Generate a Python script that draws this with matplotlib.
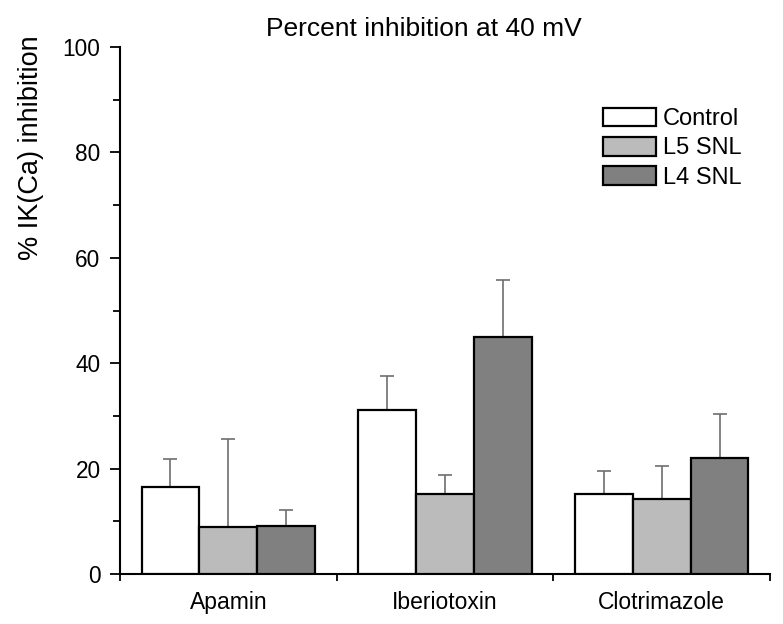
import numpy as np
import matplotlib.pyplot as plt
from matplotlib.ticker import MultipleLocator

plt.rcParams['font.family'] = ['Liberation Sans', 'DejaVu Sans']

drugs = ["Apamin", "Iberiotoxin", "Clotrimazole"]
groups = ["Control", "L5 SNL", "L4 SNL"]
means = {
    "Control": [16.5, 31.1, 15.2],
    "L5 SNL": [8.9, 15.2, 14.2],
    "L4 SNL": [9.1, 45.0, 22.0],
}
errs = {
    "Control": [5.3, 6.5, 4.3],
    "L5 SNL": [16.7, 3.6, 6.3],
    "L4 SNL": [3.0, 10.8, 8.4],
}
colors = {"Control": "white", "L5 SNL": "#bbbbbb", "L4 SNL": "#808080"}

fig = plt.figure(figsize=(7.83, 6.24), dpi=100)
ax = fig.add_axes([120 / 783, 50 / 624, 650 / 783, 527 / 624])

centers = np.arange(len(drugs)) + 0.5
w = 0.267
for i, g in enumerate(groups):
    x = centers + (i - 1) * w
    ax.bar(x, means[g], width=w, color=colors[g], edgecolor="black",
           linewidth=1.6, label=g, zorder=3)
    ax.errorbar(x, means[g], yerr=[np.zeros(len(drugs)), errs[g]], fmt="none",
                ecolor="#6e6e6e", elinewidth=1.2, capsize=5, capthick=1.2, zorder=2)

ax.set_xlim(0, 3)
ax.set_ylim(0, 100)
ax.set_xticks([0, 1, 2, 3])
ax.set_xticklabels([])
ax.set_xticks(centers, minor=True)
ax.set_xticklabels(drugs, minor=True, fontsize=16.5)
ax.tick_params(axis="x", which="minor", length=0, pad=12)
ax.tick_params(axis="x", which="major", length=5, width=1.3)
ax.yaxis.set_major_locator(MultipleLocator(20))
ax.yaxis.set_minor_locator(MultipleLocator(10))
ax.tick_params(axis="y", which="major", length=7, width=1.3, labelsize=16.3, pad=7)
ax.tick_params(axis="y", which="minor", length=5, width=1.3)
for s in ["top", "right"]:
    ax.spines[s].set_visible(False)
for s in ["left", "bottom"]:
    ax.spines[s].set_linewidth(1.5)

# the y label sits high, next to the upper half of the axis
ax.set_ylabel("% IK(Ca) inhibition", fontsize=19.5)
ax.yaxis.set_label_coords(-0.117, 0.808)
ax.set_title("Percent inhibition at 40 mV", fontsize=19, pad=8, x=0.468)

ax.legend(loc="upper left", bbox_to_anchor=(0.743, 0.885), frameon=False,
          fontsize=17, handlelength=2.25, handleheight=0.85, labelspacing=0.28,
          handletextpad=0.3, borderpad=0, borderaxespad=0)

fig.savefig("out.png", dpi=100)
